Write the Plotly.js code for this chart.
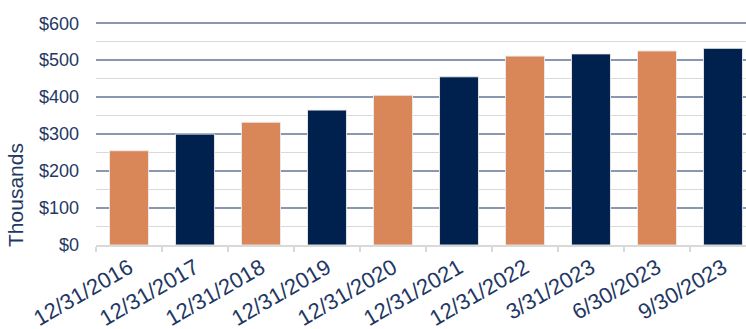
<!DOCTYPE html>
<html>
<head>
<meta charset="utf-8">
<script src="https://cdn.plot.ly/plotly-3.0.1.min.js"></script>
<style>
html, body { margin: 0; padding: 0; overflow: hidden; background: #fff; }
#chart { width: 762px; height: 329px; }
</style>
</head>
<body>
<div id="chart"></div>
<script>
const categories = ["12/31/2016", "12/31/2017", "12/31/2018", "12/31/2019", "12/31/2020",
                    "12/31/2021", "12/31/2022", "3/31/2023", "6/30/2023", "9/30/2023"];
const values = [255, 300, 332, 365, 405, 455, 511, 517, 525, 532];
const yTickVals = [0, 100, 200, 300, 400, 500, 600];
const yTickText = ["$0", "$100", "$200", "$300", "$400", "$500", "$600"];
const yTitle = "Thousands";

const ORANGE = "#D98658";
const NAVY = "#00214E";
const TEXT = "#1F3864";
const barColors = values.map((v, i) => (i % 2 === 0 ? ORANGE : NAVY));

const trace = {
  type: "bar",
  x: categories,
  y: values,
  marker: { color: barColors, line: { color: "rgba(235,235,235,0.9)", width: 1 } },
  hoverinfo: "none"
};

const layout = {
  width: 762,
  height: 329,
  margin: { l: 96, r: 6, t: 21, b: 84 },
  paper_bgcolor: "#fff",
  plot_bgcolor: "#fff",
  bargap: 0.41,
  showlegend: false,
  font: { family: "Liberation Sans, Arial, sans-serif", color: TEXT, size: 18 },
  xaxis: {
    type: "category",
    tickangle: -30,
    showline: true,
    linecolor: "#D9D9D9",
    linewidth: 1.5,
    ticks: "outside",
    tickson: "boundaries",
    ticklen: 5,
    tickcolor: "#D9D9D9",
    tickwidth: 1.5,
    showgrid: false,
    tickfont: { size: 22, color: TEXT }
  },
  yaxis: {
    range: [0, 606],
    tickvals: yTickVals,
    ticktext: yTickText,
    showgrid: true,
    gridcolor: "#8A97B0",
    gridwidth: 1.5,
    zeroline: false,
    showline: false,
    ticks: "",
    ticklabelstandoff: 16,
    tickfont: { size: 18, color: TEXT },
    minor: { dtick: 50, showgrid: true, gridcolor: "#D9D9D9", gridwidth: 1.5 }
  },
  annotations: [{
    text: yTitle,
    xref: "paper", yref: "paper",
    x: -0.121, y: 0.224,
    xanchor: "center", yanchor: "middle",
    textangle: -90,
    showarrow: false,
    font: { size: 21, color: TEXT }
  }]
};

Plotly.newPlot("chart", [trace], layout, { displayModeBar: false, staticPlot: true });
</script>
</body>
</html>
